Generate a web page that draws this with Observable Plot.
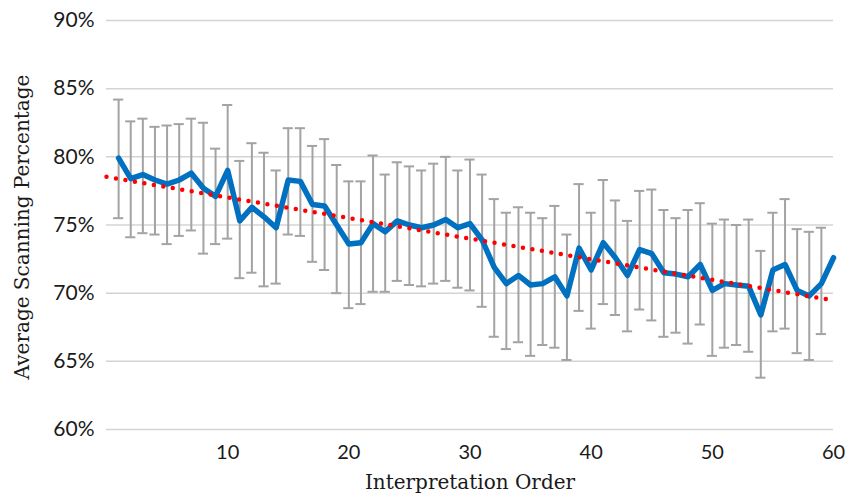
<!DOCTYPE html>
<html><head><meta charset="utf-8">
<script src="https://cdn.jsdelivr.net/npm/d3@7"></script>
<script src="https://cdn.jsdelivr.net/npm/@observablehq/plot@0.6"></script>
<style>body{margin:0;background:#fff}</style>
</head><body><div id="chart"></div>
<script>
const order = d3.range(1, 61);
const meanPct = [79.9,78.4,78.7,78.3,78.0,78.3,78.8,77.7,77.1,79.0,
  75.3,76.3,75.6,74.8,78.3,78.2,76.5,76.4,75.0,73.6,
  73.7,75.1,74.5,75.3,75.0,74.8,75.0,75.4,74.8,75.1,
  73.9,71.9,70.7,71.3,70.6,70.7,71.2,69.8,73.3,71.7,
  73.7,72.6,71.3,73.2,72.9,71.5,71.4,71.2,72.1,70.2,
  70.7,70.6,70.5,68.4,71.7,72.1,70.2,69.8,70.7,72.6];
const upperPct = [84.2,82.6,82.8,82.2,82.3,82.4,82.8,82.5,80.6,83.8,
  79.7,81.0,80.3,79.0,82.1,82.1,80.8,81.3,79.4,78.2,
  78.2,80.1,78.7,79.6,79.3,79.0,79.5,80.0,79.0,79.8,
  78.7,76.9,75.9,76.3,75.9,75.5,76.4,74.3,78.0,75.9,
  78.3,76.8,75.3,77.5,77.6,76.1,75.5,76.1,76.6,75.1,
  75.4,75.0,75.4,73.1,75.9,76.9,74.7,74.5,74.8,null];
const lowerPct = [75.5,74.1,74.4,74.3,73.6,74.2,74.6,72.9,73.6,74.0,
  71.1,71.5,70.5,70.7,74.3,74.2,72.3,71.7,70.0,68.9,
  69.2,70.1,70.1,70.9,70.6,70.5,70.7,70.9,70.4,70.2,
  69.0,66.8,65.9,66.4,65.4,66.2,66.0,65.1,68.7,67.4,
  69.2,68.4,67.2,68.8,68.0,66.8,67.1,66.3,67.7,65.4,
  66.0,66.2,65.7,63.8,67.2,67.4,65.6,65.1,67.0,null];
const yTicks = [60, 65, 70, 75, 80, 85, 90];
const xTicks = [10, 20, 30, 40, 50, 60];
const xDomain = [0, 60];
const yTitle = "Average Scanning Percentage";
const xTitle = "Interpretation Order";

const data = order.map((x, i) => ({x, mean: meanPct[i], hi: upperPct[i], lo: lowerPct[i]}));
const bars = data.filter(d => d.hi != null);
const mx = d3.mean(data, d => d.x), my = d3.mean(data, d => d.mean);
const slope = d3.sum(data, d => (d.x - mx) * (d.mean - my)) / d3.sum(data, d => (d.x - mx) ** 2);
const icpt = my - slope * mx;
const trend = xDomain.map(x => ({x, y: icpt + slope * x}));

const chart = Plot.plot({
  width: 859, height: 495,
  marginLeft: 106, marginRight: 26, marginTop: 20, marginBottom: 66,
  style: {fontFamily: "Lato, sans-serif", fontSize: "20px", color: "#1a1a1a", background: "#fff"},
  x: {domain: xDomain, ticks: xTicks, tickSize: 0, tickPadding: 15, label: null},
  y: {domain: [60, 90], ticks: yTicks, tickSize: 0, tickPadding: 12, label: null, tickFormat: d => d + "%"},
  marks: [
    Plot.gridY(yTicks, {stroke: "#d4d4d4", strokeOpacity: 1, strokeWidth: 1.5}),
    Plot.axisX({ticks: xTicks, tickSize: 0, tickPadding: 15, fontSize: 20, label: null}),
    Plot.axisY({ticks: yTicks, tickSize: 0, tickPadding: 12, fontSize: 21, label: null, tickFormat: d => d + "%"}),
    Plot.ruleX(bars, {x: "x", y1: "lo", y2: "hi", stroke: "#a3a3a3", strokeWidth: 2}),
    Plot.ruleY(bars, {y: "hi", x1: d => d.x - 0.42, x2: d => d.x + 0.42, stroke: "#a3a3a3", strokeWidth: 2}),
    Plot.ruleY(bars, {y: "lo", x1: d => d.x - 0.42, x2: d => d.x + 0.42, stroke: "#a3a3a3", strokeWidth: 2}),
    Plot.line(data, {x: "x", y: "mean", stroke: "#0070c0", strokeWidth: 5.5, strokeLinejoin: "round", strokeLinecap: "round"}),
    Plot.line(trend, {x: "x", y: "y", stroke: "#ff0000", strokeWidth: 4.5, strokeDasharray: "0 9.6", strokeLinecap: "round"}),
    Plot.text([yTitle], {frameAnchor: "left", textAnchor: "middle", lineAnchor: "middle", dx: -84, dy: 2, rotate: -90, fontFamily: "DejaVu Serif, serif", fontSize: 20, fill: "#1a1a1a"}),
    Plot.text([xTitle], {frameAnchor: "bottom", textAnchor: "middle", dy: 59, fontFamily: "DejaVu Serif, serif", fontSize: 20, fill: "#1a1a1a"})
  ]
});
document.getElementById("chart").appendChild(chart);
</script>
</body></html>
